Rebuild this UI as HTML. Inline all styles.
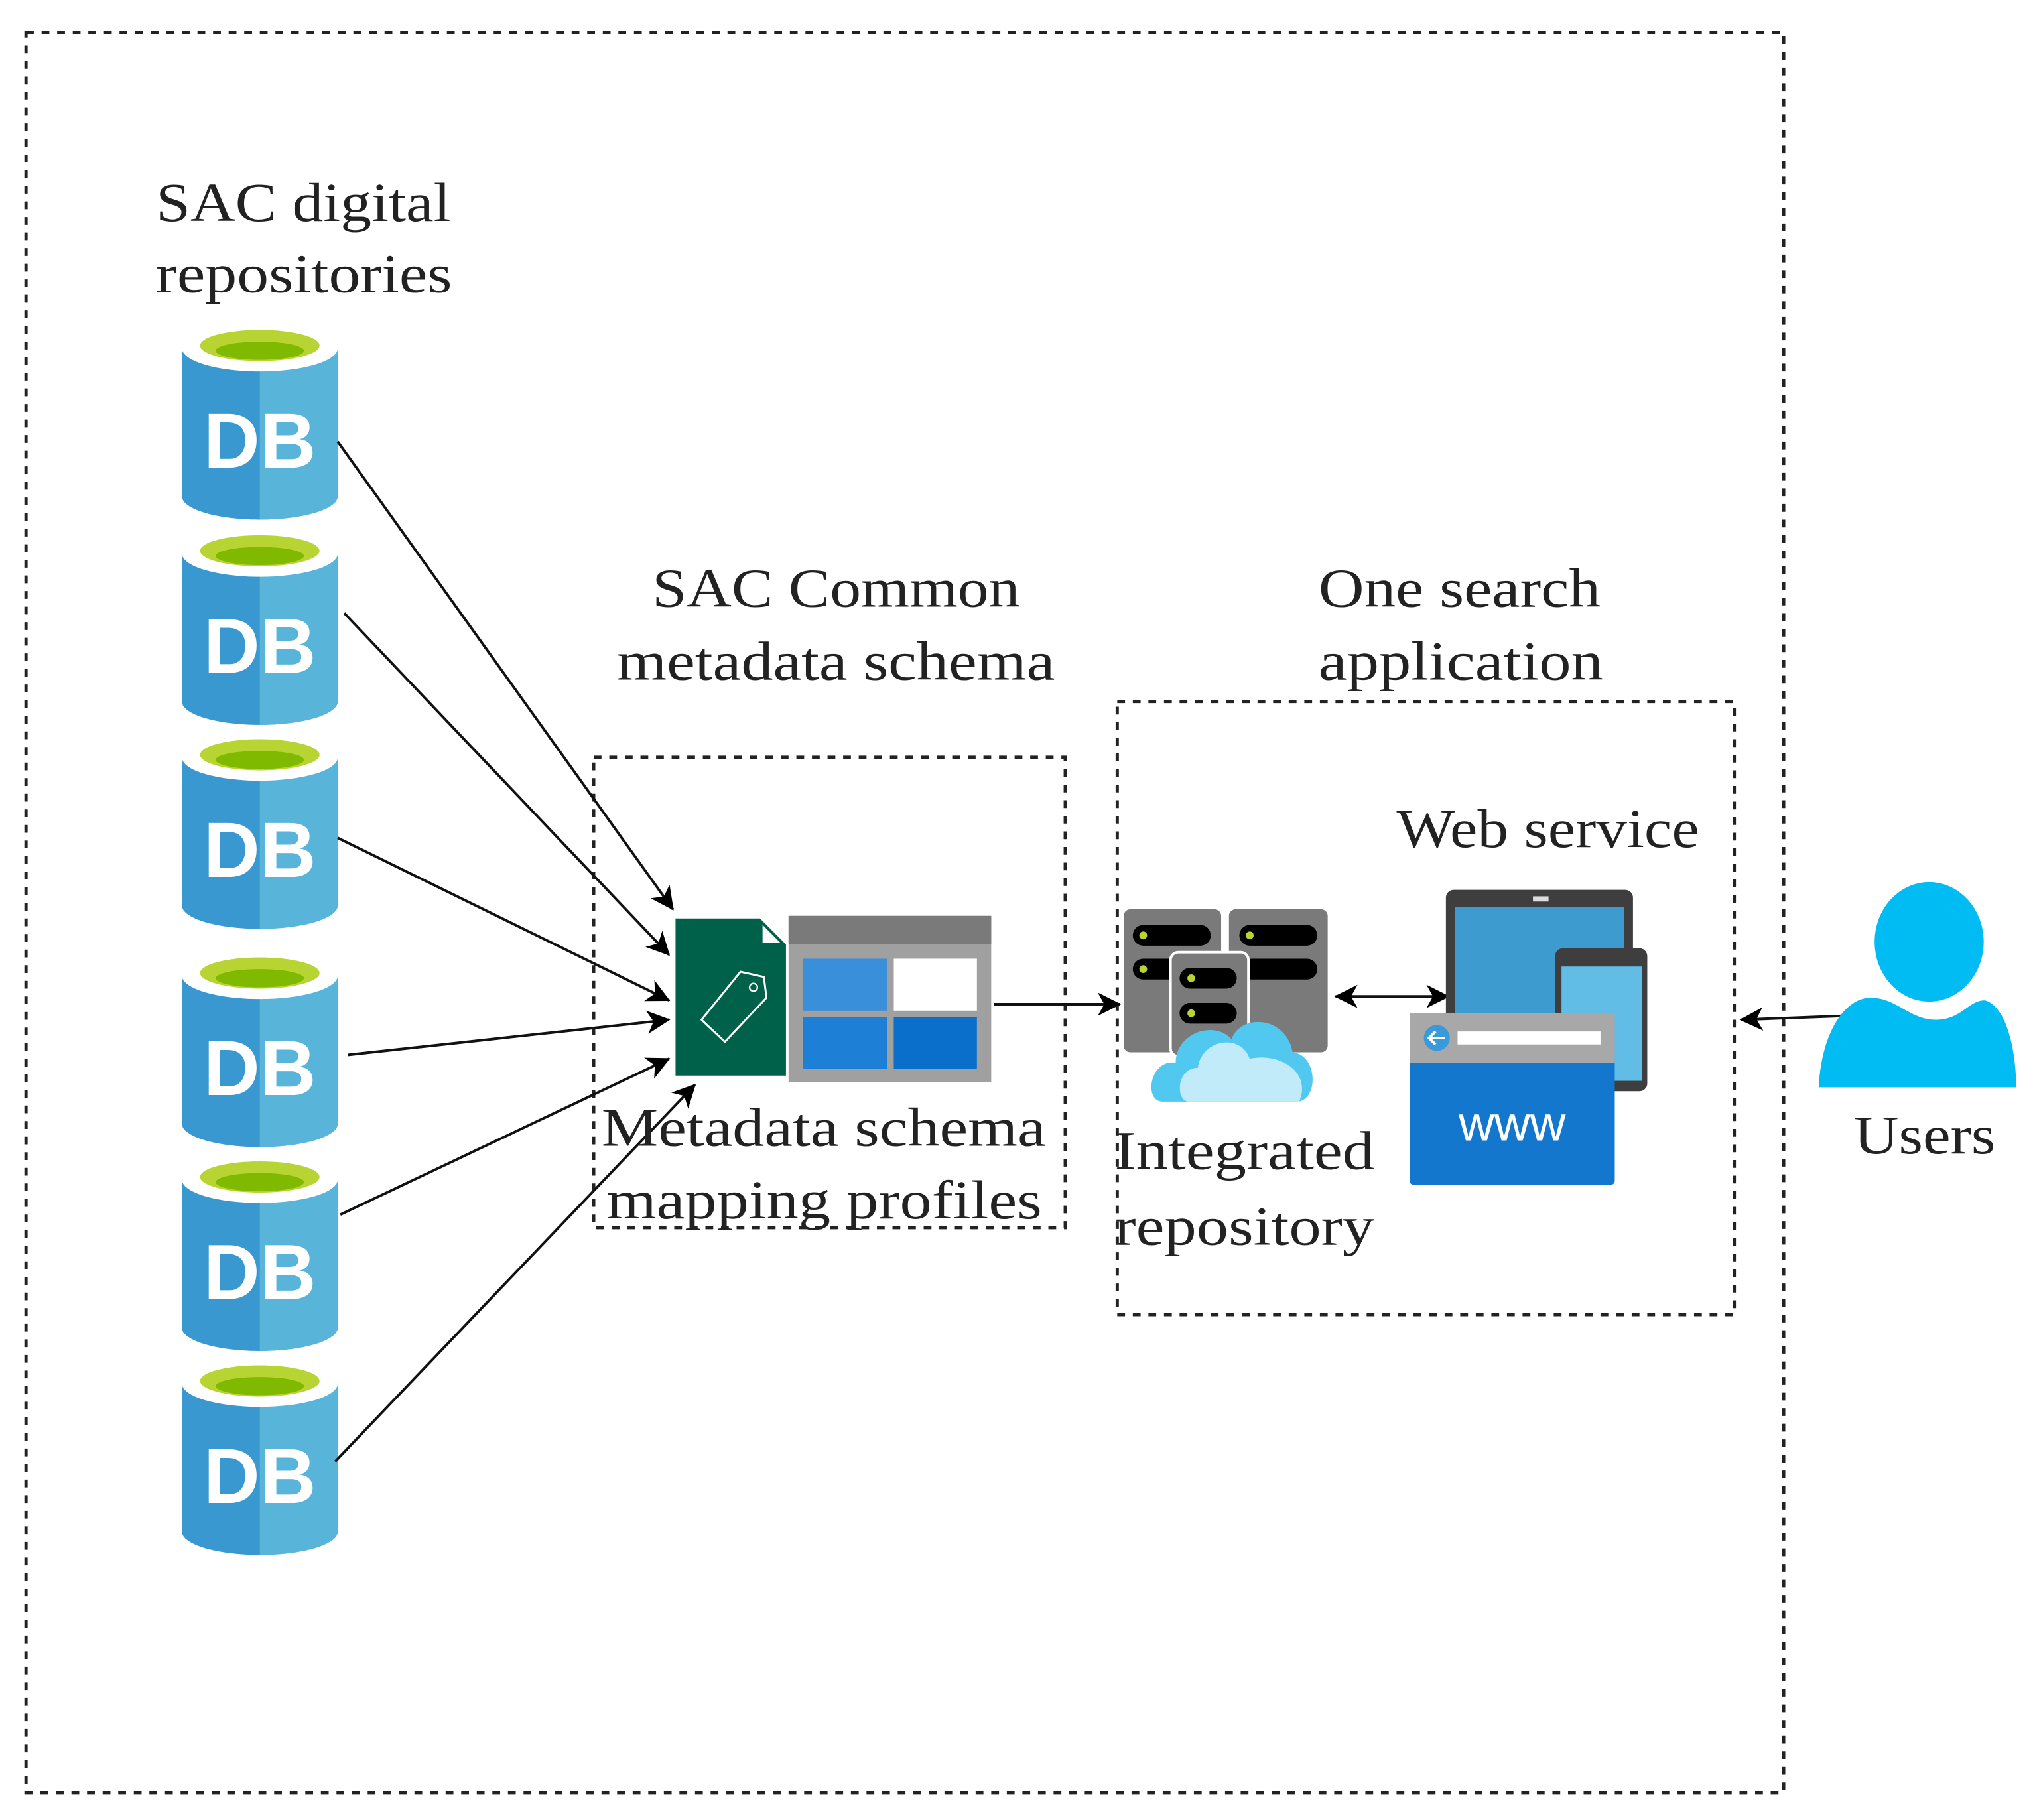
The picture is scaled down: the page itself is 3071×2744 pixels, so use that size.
<!DOCTYPE html>
<html><head><meta charset="utf-8"><style>
html,body{margin:0;padding:0;background:#fff;}
svg{display:block;}
text{font-family:"Liberation Serif",serif;fill:#222;font-size:42px;}
</style></head><body>
<svg width="3071" height="2744" viewBox="0 0 1568 1401" preserveAspectRatio="none" xmlns="http://www.w3.org/2000/svg">
<defs>
<g id="db">
<path d="M0,18 V132 A60,18 0 0 0 120,132 V18 Z" fill="#3998cf"/>
<path d="M60,18 V150 A60,18 0 0 0 120,132 V18 Z" fill="#59b4d9"/>
<ellipse cx="60" cy="18" rx="60" ry="18" fill="#fff"/>
<ellipse cx="60" cy="16" rx="46" ry="12" fill="#b8d432"/>
<ellipse cx="60" cy="20" rx="34" ry="7" fill="#7fba00"/>
<text x="60" y="110" text-anchor="middle" style="font-family:'Liberation Sans',sans-serif;font-weight:bold;font-size:60px;fill:#fff">DB</text>
</g>
<marker id="ah2" markerWidth="18" markerHeight="18" refX="17" refY="9" orient="auto-start-reverse" markerUnits="userSpaceOnUse" viewBox="0 0 18 18">
<path d="M0,0 L18,9 L0,18 L5,9 Z" fill="#000"/>
</marker>
</defs>

<rect x="20" y="25" width="1353" height="1355" fill="none" stroke="#222" stroke-width="2.5" stroke-dasharray="6,6"/>
<rect x="457" y="583" width="363" height="362" fill="none" stroke="#222" stroke-width="2.5" stroke-dasharray="6,6"/>
<rect x="860" y="540" width="475" height="472" fill="none" stroke="#222" stroke-width="2.5" stroke-dasharray="6,6"/>

<use href="#db" x="140" y="250"/>
<use href="#db" x="140" y="408"/>
<use href="#db" x="140" y="565"/>
<use href="#db" x="140" y="733"/>
<use href="#db" x="140" y="890"/>
<use href="#db" x="140" y="1047"/>

<g stroke="#111" stroke-width="2" fill="none">
<line x1="260" y1="340" x2="518" y2="700" marker-end="url(#ah2)"/>
<line x1="265" y1="472" x2="515" y2="735" marker-end="url(#ah2)"/>
<line x1="260" y1="645" x2="515" y2="770" marker-end="url(#ah2)"/>
<line x1="268" y1="812" x2="515" y2="785" marker-end="url(#ah2)"/>
<line x1="262" y1="935" x2="515" y2="815" marker-end="url(#ah2)"/>
<line x1="258" y1="1125" x2="535" y2="835" marker-end="url(#ah2)"/>
<line x1="765" y1="773" x2="862" y2="773" marker-end="url(#ah2)"/>
<line x1="1028" y1="767" x2="1115" y2="767" marker-start="url(#ah2)" marker-end="url(#ah2)"/>
<line x1="1420" y1="782" x2="1340" y2="785" marker-end="url(#ah2)"/>
</g>

<path d="M520,707 H585 L605,727 V828 H520 Z" fill="#00614a"/>
<path d="M587,712 L601,726 H587 Z" fill="#fff"/>
<path d="M540,785 L570,748 L588,752 L590,768 L558,802 Z" fill="none" stroke="#fff" stroke-width="1.5"/>
<circle cx="580" cy="760" r="3" fill="none" stroke="#fff" stroke-width="1.2"/>
<rect x="607" y="705" width="156" height="128" fill="#a0a0a0"/>
<rect x="607" y="705" width="156" height="22" fill="#7a7a7a"/>
<rect x="618" y="738" width="65" height="40" fill="#3a8fdb"/>
<rect x="688" y="738" width="64" height="40" fill="#fff"/>
<rect x="618" y="783" width="65" height="40" fill="#1e7fd6"/>
<rect x="688" y="783" width="64" height="40" fill="#0a6fca"/>

<rect x="865" y="700" width="75" height="110" rx="5" fill="#7a7a7a"/>
<rect x="946" y="700" width="76" height="110" rx="5" fill="#7a7a7a"/>
<rect x="872" y="712" width="60" height="16" rx="8" fill="#000"/>
<rect x="954" y="712" width="60" height="16" rx="8" fill="#000"/>
<rect x="872" y="738" width="60" height="16" rx="8" fill="#000"/>
<rect x="954" y="738" width="60" height="16" rx="8" fill="#000"/>
<circle cx="880" cy="720" r="3" fill="#b8d432"/><circle cx="962" cy="720" r="3" fill="#b8d432"/>
<circle cx="880" cy="746" r="3" fill="#b8d432"/>
<rect x="901" y="733" width="60" height="80" rx="6" fill="#7a7a7a" stroke="#fff" stroke-width="2"/>
<rect x="908" y="745" width="44" height="16" rx="8" fill="#000"/>
<rect x="908" y="772" width="44" height="16" rx="8" fill="#000"/>
<circle cx="917" cy="753" r="3" fill="#b8d432"/><circle cx="917" cy="780" r="3" fill="#b8d432"/>
<path d="M895,848 C880,848 885,815 905,818 C905,795 935,785 948,800 C955,780 990,782 995,810 C1015,812 1015,848 998,848 Z" fill="#50c8f0"/>
<path d="M915,848 C905,848 905,822 922,822 C925,800 955,795 962,815 C985,810 1010,825 1000,848 Z" fill="#c2ebfa"/>

<rect x="1113" y="685" width="144" height="115" rx="6" fill="#3e3e3e"/>
<rect x="1120" y="698" width="130" height="95" fill="#3e9bd0"/>
<rect x="1180" y="690" width="12" height="4" fill="#ddd"/>
<rect x="1197" y="730" width="71" height="110" rx="6" fill="#3e3e3e"/>
<rect x="1202" y="744" width="62" height="88" fill="#62bde6"/>
<rect x="1085" y="780" width="158" height="132" rx="3" fill="#1277cd"/>
<rect x="1085" y="780" width="158" height="38" fill="#a8a8a8"/>
<circle cx="1106" cy="799" r="10" fill="#3a9ad9"/>
<path d="M1112,799 H1100 M1105,794 L1100,799 L1105,804" stroke="#fff" stroke-width="2" fill="none"/>
<rect x="1122" y="794" width="110" height="10" fill="#fff"/>
<text x="1164" y="878" text-anchor="middle" style="font-family:'Liberation Sans',sans-serif;font-size:38px;fill:#fff">www</text>

<ellipse cx="1485" cy="725" rx="42" ry="46" fill="#00bcf2"/>
<path d="M1400,837 C1402,795 1420,768 1440,768 C1460,768 1470,785 1490,785 C1510,785 1515,770 1528,770 C1545,775 1552,810 1552,837 Z" fill="#00bcf2"/>

<text x="120" y="170" textLength="227" lengthAdjust="spacingAndGlyphs">SAC digital</text>
<text x="120" y="225" textLength="228" lengthAdjust="spacingAndGlyphs">repositories</text>
<text x="502" y="467" textLength="283" lengthAdjust="spacingAndGlyphs">SAC Common</text>
<text x="475" y="523" textLength="337" lengthAdjust="spacingAndGlyphs">metadata schema</text>
<text x="1015" y="467" textLength="217" lengthAdjust="spacingAndGlyphs">One search</text>
<text x="1015" y="523" textLength="219" lengthAdjust="spacingAndGlyphs">application</text>
<text x="1075" y="652" textLength="233" lengthAdjust="spacingAndGlyphs">Web service</text>
<text x="463" y="882" textLength="342" lengthAdjust="spacingAndGlyphs">Metadata schema</text>
<text x="467" y="938" textLength="335" lengthAdjust="spacingAndGlyphs">mapping profiles</text>
<text x="858" y="900" textLength="200" lengthAdjust="spacingAndGlyphs">Integrated</text>
<text x="858" y="958" textLength="200" lengthAdjust="spacingAndGlyphs">repository</text>
<text x="1427" y="888" textLength="109" lengthAdjust="spacingAndGlyphs">Users</text>
</svg>
</body></html>
